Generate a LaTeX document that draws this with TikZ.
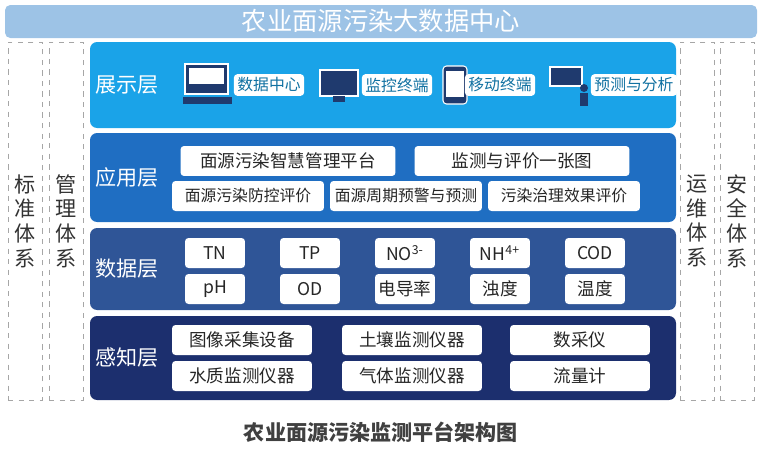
\documentclass[tikz,border=0pt]{standalone}
\usepackage{fontspec}
\setmainfont{Noto Sans CJK SC}
\usetikzlibrary{positioning}
\definecolor{topblue}{HTML}{9DC3E6}
\definecolor{showblue}{HTML}{1AA3E8}
\definecolor{appblue}{HTML}{1F6EC2}
\definecolor{datablue}{HTML}{2F5597}
\definecolor{senseblue}{HTML}{1C2F6E}
\definecolor{iconnavy}{HTML}{1F3A6E}

\begin{document}
\begin{tikzpicture}[x=0.02cm,y=-0.02cm,
  layer/.style={rounded corners=4pt,draw=none},
  side box/.style={draw=gray!70,dashed,minimum width=0.68cm,minimum height=7.16cm,
    align=center,font=\large,text=black!80,inner sep=1pt},
  layer name/.style={text=white,font=\large},
  item/.style={fill=white,rounded corners=2pt,font=\normalsize,text=black!85,
    minimum height=0.6cm,inner sep=1pt},
  tag/.style={fill=white,rounded corners=2pt,font=\small,text=showblue!70!black,
    minimum height=0.42cm,inner sep=2pt},
  screen/.style={fill=iconnavy,draw=white,line width=0.6pt}]

  \useasboundingbox (0,0) rectangle (765,450);

  % banner
  \fill[topblue,rounded corners=3pt] (5,5) rectangle (757,38);
  \node[text=white,font=\Large] (title) at (381,21) {农业面源污染大数据中心};

  % side frames
  \node[side box] (std) at (25,221) {标\\准\\体\\系};
  \node[side box] (mgmt) at (66,221) {管\\理\\体\\系};
  \node[side box] (ops) at (697,221) {运\\维\\体\\系};
  \node[side box] (sec) at (737,221) {安\\全\\体\\系};

  % layers
  \fill[layer,showblue] (90,42) rectangle (676,128);
  \fill[layer,appblue] (90,133) rectangle (676,222);
  \fill[layer,datablue] (90,228) rectangle (676,310);
  \fill[layer,senseblue] (90,316) rectangle (676,400);

  \node[layer name] (show) at (127,85) {展示层};
  \node[layer name] (app) at (127,177) {应用层};
  \node[layer name] (data) at (127,269) {数据层};
  \node[layer name] (sense) at (127,358) {感知层};

  % display layer icons
  \draw[screen] (185,64) rectangle (228,94);
  \fill[white] (189,68) rectangle (224,84);
  \fill[iconnavy] (183,97) rectangle (232,104);
  \draw[screen] (320,70) rectangle (358,96);
  \fill[iconnavy] (333,96) rectangle (345,102);
  \draw[screen,rounded corners=2pt] (443,66) rectangle (467,104);
  \fill[white] (446,71) rectangle (464,97);
  \draw[screen] (550,67) rectangle (582,86);
  \fill[iconnavy] (584,88) circle (4);
  \fill[iconnavy] (580,93) rectangle (588,106);

  \node[tag] (dc) at (269,85) {数据中心};
  \node[tag] (mon) at (397,85) {监控终端};
  \node[tag] (mob) at (500,85) {移动终端};
  \node[tag] (pred) at (634,85) {预测与分析};

  % application layer
  \node[item,minimum width=4.3cm] (a1) at (288,161) {面源污染智慧管理平台};
  \node[item,minimum width=4.3cm] (a2) at (522,161) {监测与评价一张图};
  \node[item,font=\small,minimum width=3.04cm] (a3) at (248,196) {面源污染防控评价};
  \node[item,font=\small,minimum width=3.04cm] (a4) at (406,196) {面源周期预警与预测};
  \node[item,font=\small,minimum width=3.04cm] (a5) at (564,196) {污染治理效果评价};

  % data layer
  \foreach \x/\t/\b [count=\i] in {215/TN/pH,310/TP/OD,405/NO\textsuperscript{3-}/电导率,
      500/NH\textsuperscript{4+}/浊度,595/COD/温度}{
    \node[item,minimum width=1.2cm] (d\i) at (\x,253) {\t};
    \node[item,minimum width=1.2cm] (e\i) at (\x,289) {\b};
  }

  % sensing layer
  \foreach \x/\t/\b [count=\i] in {242/图像采集设备/水质监测仪器,412/土壤监测仪器/气体监测仪器,
      580/数采仪/流量计}{
    \node[item,minimum width=2.8cm] (s\i) at (\x,340) {\t};
    \node[item,minimum width=2.8cm] (t\i) at (\x,376) {\b};
  }

  \node[font=\large\bfseries,text=black!75] (cap) at (381,432) {农业面源污染监测平台架构图};
\end{tikzpicture}
\end{document}
